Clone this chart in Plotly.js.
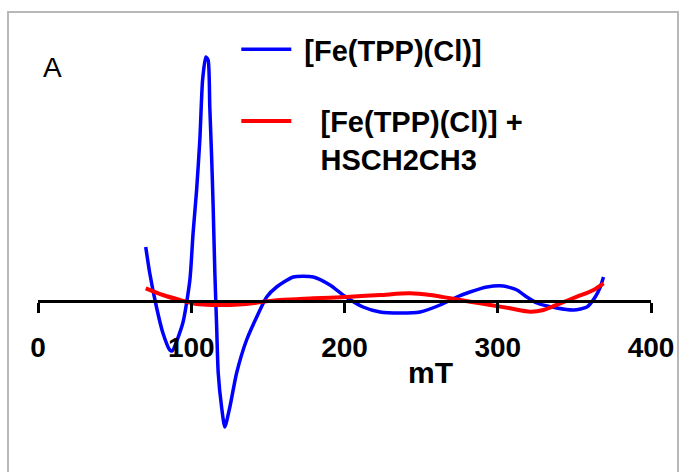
<!DOCTYPE html>
<html>
<head>
<meta charset="utf-8">
<script src="https://cdn.plot.ly/plotly-3.0.1.min.js"></script>
<style>
html,body{margin:0;padding:0;background:#fff;}
#chart{width:679px;height:472px;}
</style>
</head>
<body>
<div id="chart"></div>
<script>
// Magnetic field (mT) and EPR signal (arbitrary units)
var feX = [70.3, 72.9, 77.3, 81.5, 86.0, 87.5, 94.5, 99.1, 101.2, 103.5, 105.6, 107.4, 109.5, 111.0, 112.1, 113.3, 114.3, 115.4, 116.5, 117.6, 119.8, 121.9, 125.2, 129.6, 136.1, 142.7, 149.2, 155.7, 166.6, 179.6, 190.5, 200.0, 212.1, 223.2, 236.2, 249.3, 262.4, 273.3, 281.9, 292.9, 303.7, 312.5, 319.0, 325.5, 338.6, 349.5, 358.2, 363.6, 366.9, 369.0];
var feY = [54, 28, -6, -32, -49, -50, -22, 21, 68, 111, 161, 221, 244, 241, 194, 144, 94, 28, -22, -72, -106, -126, -106, -72, -39, -16, 4, 14, 24, 24, 16, 5, -6, -11, -12, -11, -4, 4, 9, 14, 15, 11, 4, -2, -7, -9, -6, 4, 14, 24];

var thiolX = [70.3, 81.6, 92.6, 103.5, 114.3, 125.2, 136.1, 147.0, 157.9, 168.8, 179.6, 190.5, 203.6, 223.2, 242.8, 255.9, 269.0, 282.0, 295.1, 308.1, 321.2, 329.8, 340.8, 351.7, 362.5, 369.0];
var thiolY = [12.7, 6, 1, -3, -4, -4, -3, -0.7, 1, 1.7, 2.7, 3.3, 4.3, 6, 7.7, 6, 2.7, -0.7, -4, -7.3, -10.7, -9, -2.3, 4.3, 11, 17.7];

var tickVals = [0, 100, 200, 300, 400];
var tickText = ['0', '100', '200', '300', '400'];
var seriesNames = ['\u00a0[Fe(TPP)(Cl)]', '\u00a0\u00a0\u00a0[Fe(TPP)(Cl)] +<br>\u00a0\u00a0\u00a0HSCH2CH3'];

var yMin = -151, yMax = 281;

var traces = [
  {x: feX, y: feY, mode: 'lines', name: seriesNames[0], legendgroup: 'a',
   line: {color: '#0000ff', width: 3.5, shape: 'spline', smoothing: 0.6}},
  {x: thiolX, y: thiolY, mode: 'lines', name: seriesNames[1], legendgroup: 'b',
   line: {color: '#ff0000', width: 4, shape: 'spline', smoothing: 0.8}}
];

var layout = {
  width: 679, height: 472,
  margin: {l: 38, r: 28, t: 20, b: 20},
  paper_bgcolor: '#ffffff', plot_bgcolor: 'rgba(0,0,0,0)',
  font: {family: 'Liberation Sans, Arial, sans-serif', color: '#000'},
  showlegend: true,
  legend: {x: 0.3235, y: 0.991, xanchor: 'left', yanchor: 'top',
           bgcolor: 'rgba(0,0,0,0)', borderwidth: 0,
           font: {size: 29, weight: 'bold', family: 'Liberation Sans, Arial, sans-serif', color: '#000'},
           traceorder: 'grouped', tracegroupgap: 31, valign: 'top', itemwidth: 50},
  xaxis: {range: [0, 400], anchor: 'free', position: (0 - yMin) / (yMax - yMin),
          showgrid: false, zeroline: false, showline: true, linecolor: '#000', linewidth: 3,
          ticks: 'outside', ticklen: 10, tickwidth: 3, tickcolor: '#000',
          tickvals: tickVals, ticktext: tickText, ticklabelstandoff: 10,
          tickfont: {size: 28, weight: 'bold', family: 'Liberation Sans, Arial, sans-serif', color: '#000'},
          automargin: false},
  yaxis: {range: [yMin, yMax], visible: false, showgrid: false, zeroline: false, automargin: false},
  annotations: [
    {text: 'A', xref: 'paper', yref: 'paper', x: (52 - 38) / 613, y: (452 - 67) / 432,
     xanchor: 'center', yanchor: 'middle', showarrow: false,
     font: {size: 28, family: 'Liberation Sans, Arial, sans-serif', color: '#000'}},
    {text: 'mT', xref: 'paper', yref: 'paper', x: (430 - 38) / 613, y: (452 - 372) / 432,
     xanchor: 'center', yanchor: 'middle', showarrow: false,
     font: {size: 30, weight: 'bold', family: 'Liberation Sans, Arial, sans-serif', color: '#000'}}
  ],
  shapes: [
    {type: 'rect', xref: 'paper', yref: 'paper',
     x0: (8 - 38) / 613, x1: (678 - 38) / 613, y0: (452 - 490) / 432, y1: (452 - 12) / 432,
     line: {color: '#b8b8b8', width: 2}, fillcolor: 'rgba(0,0,0,0)', layer: 'below'}
  ]
};

Plotly.newPlot('chart', traces, layout, {staticPlot: true, displayModeBar: false});
</script>
</body>
</html>
